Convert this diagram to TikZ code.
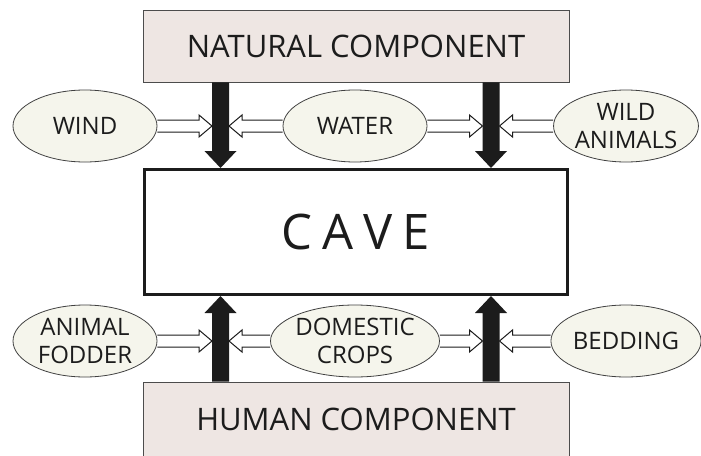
\documentclass[tikz,border=0pt]{standalone}
\usepackage{fontspec}
\setmainfont{Open Sans}
\usetikzlibrary{calc,shapes.geometric}
\definecolor{boxfill}{HTML}{EEE6E3}
\definecolor{ovalfill}{HTML}{F5F5EC}
\definecolor{ink}{HTML}{1C1C1C}
\begin{document}
\begin{tikzpicture}[x=1pt, y=-1pt, line join=miter, text=ink,
    comp/.style={draw=black!70, line width=0.8pt, fill=boxfill, minimum width=426pt,
      minimum height=72pt, inner sep=0pt, font=\fontsize{31}{34}\selectfont},
    cavebox/.style={draw=ink, line width=3pt, minimum width=423pt, minimum height=125pt,
      inner sep=0pt, font=\fontsize{49}{54}\selectfont},
    oval/.style={ellipse, draw=black!75, line width=0.8pt, fill=ovalfill, minimum width=144pt,
      minimum height=72pt, inner sep=0pt, align=center, font=\fontsize{24}{28}\selectfont},
    bigarrow/.style={fill=ink, to path={let \p1=(\tikztostart), \p2=(\tikztotarget),
      \p3=($(\p2)!17pt!(\p1)$) in
      (\x1-8.5pt,\y1) -- (\x1-8.5pt,\y3) -- (\x1-16pt,\y3) -- (\x2,\y2)
      -- (\x1+16pt,\y3) -- (\x1+8.5pt,\y3) -- (\x1+8.5pt,\y1) -- cycle}},
    hollow/.style={draw=ink, line width=1pt, to path={let \p1=(\tikztostart), \p2=(\tikztotarget),
      \p3=($(\p2)!13pt!(\p1)$) in
      (\x1,\y1+6pt) -- (\x3,\y1+6pt) -- (\x3,\y1+11pt) -- (\x2,\y1)
      -- (\x3,\y1-11pt) -- (\x3,\y1-6pt) -- (\x1,\y1-6pt)}}]
  \useasboundingbox (0,0) rectangle (701,455);
  \clip (0,0) rectangle (701,455);
  \fill[white] (0,0) rectangle (701,455);

  % === BOXES ===
  \node[comp] (natural) at (356,46) {NATURAL COMPONENT};
  \node[cavebox] (cave) at (356,232) {C\hspace{10pt}A\hspace{10pt}V\hspace{10pt}E};
  \node[comp, minimum height=74pt] (human) at (356,419) {HUMAN COMPONENT};

  % === OVALS ===
  \node[oval] (wind) at (85,126) {WIND};
  \node[oval] (water) at (355,126) {WATER};
  \node[oval] (wild) at (626,126) {WILD\\ANIMALS};
  \node[oval] (fodder) at (85,341) {ANIMAL\\FODDER};
  \node[oval] (crops) at (355,341) {DOMESTIC\\CROPS};
  \node[oval] (bedding) at (626,341) {BEDDING};

  % === BIG ARROWS ===
  \coordinate (xL) at (220.5,0);
  \coordinate (xR) at (491,0);
  \fill[bigarrow] (natural.south -| xL) to (cave.north -| xL);
  \fill[bigarrow] (natural.south -| xR) to (cave.north -| xR);
  \fill[bigarrow] (human.north -| xL) to (cave.south -| xL);
  \fill[bigarrow] (human.north -| xR) to (cave.south -| xR);

  % === HOLLOW ARROWS ===
  \foreach \r/\a/\b/\c in {t/wind/water/wild, b/fodder/crops/bedding} {
    \coordinate (\r1) at ($(xL |- \a)+(-8.5,0)$);
    \coordinate (\r2) at ($(xL |- \a)+(8.5,0)$);
    \coordinate (\r3) at ($(xR |- \a)+(-8.5,0)$);
    \coordinate (\r4) at ($(xR |- \a)+(8.5,0)$);
    \draw[hollow] (\a.east) to (\r1);
    \draw[hollow] (\b.west) to (\r2);
    \draw[hollow] (\b.east) to (\r3);
    \draw[hollow] (\c.west) to (\r4);
  }
\end{tikzpicture}
\end{document}
